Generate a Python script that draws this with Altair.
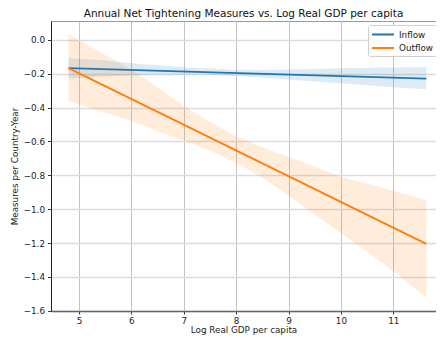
import altair as alt
import pandas as pd

# ---- data ----
series_names = ["Inflow", "Outflow"]
series_colors = ["#1f77b4", "#ff7f0e"]

x_grid = [4.80, 5.5, 6.0, 6.5, 7.0, 7.5, 8.0, 8.5, 9.0, 9.5, 10.0, 10.5, 11.0, 11.63]
inflow_lower = [-0.229, -0.215, -0.210, -0.205, -0.205, -0.207, -0.212, -0.222, -0.235, -0.246, -0.257, -0.268, -0.280, -0.292]
inflow_upper = [-0.107, -0.122, -0.138, -0.150, -0.162, -0.170, -0.177, -0.178, -0.175, -0.172, -0.168, -0.165, -0.163, -0.161]
outflow_lower = [-0.362, -0.430, -0.480, -0.540, -0.595, -0.655, -0.725, -0.815, -0.920, -1.030, -1.140, -1.250, -1.367, -1.523]
outflow_upper = [0.033, -0.090, -0.175, -0.280, -0.390, -0.485, -0.570, -0.635, -0.690, -0.750, -0.810, -0.850, -0.890, -0.945]

line_x = [4.80, 11.63]
inflow_line = [-0.167, -0.229]
outflow_line = [-0.167, -1.205]

x_ticks = [5, 6, 7, 8, 9, 10, 11]
y_ticks = [0.0, -0.2, -0.4, -0.6, -0.8, -1.0, -1.2, -1.4, -1.6]

title_text = "Annual Net Tightening Measures vs. Log Real GDP per capita"
x_title = "Log Real GDP per capita"
y_title = "Measures per Country-Year"

# ---- tables ----
band_rows = []
for name, lo, hi in [("Inflow", inflow_lower, inflow_upper), ("Outflow", outflow_lower, outflow_upper)]:
    for xv, l, h in zip(x_grid, lo, hi):
        band_rows.append({"series": name, "x": xv, "lo": l, "hi": h})
band_df = pd.DataFrame(band_rows)

line_rows = []
for name, ys in [("Inflow", inflow_line), ("Outflow", outflow_line)]:
    for xv, yv in zip(line_x, ys):
        line_rows.append({"series": name, "x": xv, "y": yv})
line_df = pd.DataFrame(line_rows)

FONT = "DejaVu Sans"

x_scale = alt.Scale(domain=[4.465, 11.815], nice=False, zero=False)
y_scale = alt.Scale(domain=[-1.601, 0.111], nice=False, zero=False)
color_scale = alt.Scale(domain=series_names, range=series_colors)

x_axis = alt.Axis(values=x_ticks, format="d", title=x_title, grid=True,
                  gridColor="#c4c4c4", gridWidth=1,
                  domainColor="#666666", domainWidth=1.4,
                  tickColor="#222222", tickSize=3, tickWidth=0.9,
                  labelPadding=2, titlePadding=1)
y_axis = alt.Axis(values=y_ticks, title=y_title, grid=True,
                  labelExpr="replace(format(datum.value, '.1f'), '-', '\u2212')",
                  gridColor="#dcdcdc", gridWidth=1.5,
                  domainColor="#222222", domainWidth=1,
                  tickColor="#222222", tickSize=3.5, tickWidth=0.9,
                  labelPadding=3, titlePadding=4)

legend = alt.Legend(title=None, orient="none", legendX=317, legendY=4,
                    symbolType="M-1,0L3,0", symbolSize=121,
                    symbolStrokeWidth=2, symbolOpacity=1, labelOffset=15,
                    rowPadding=1.5, padding=3,
                    strokeColor="#d0d0d0", fillColor="white",
                    cornerRadius=2)

bands = alt.Chart(band_df).mark_area(opacity=0.15).encode(
    x=alt.X("x:Q", scale=x_scale, axis=x_axis),
    y=alt.Y("lo:Q", scale=y_scale, axis=y_axis),
    y2="hi:Q",
    color=alt.Color("series:N", scale=color_scale, legend=legend),
    detail="series:N",
)

lines = alt.Chart(line_df).mark_line(strokeWidth=1.9).encode(
    x=alt.X("x:Q", scale=x_scale, axis=x_axis),
    y=alt.Y("y:Q", scale=y_scale, axis=y_axis),
    color=alt.Color("series:N", scale=color_scale, legend=legend),
)

chart = alt.layer(bands, lines).properties(
    width=385,
    height=290,
    autosize=alt.AutoSizeParams(type="none"),
    padding={"left": 43, "top": 13, "right": 0, "bottom": 24},
    title=alt.Title(title_text, fontSize=10.5, font=FONT, fontWeight="normal",
                    color="#111111", anchor="middle", offset=1.5, frame="group"),
).configure_axis(
    labelFont=FONT, labelFontSize=8.8, labelColor="#222222",
    titleFont=FONT, titleFontSize=8.8, titleColor="#222222", titleFontWeight="normal",
).configure_legend(
    labelFont=FONT, labelFontSize=8.8, labelColor="#222222",
).configure_view(
    stroke="#9a9a9a", strokeWidth=1,
)

chart.save("out.html", embed_options={"renderer": "svg", "actions": False})
